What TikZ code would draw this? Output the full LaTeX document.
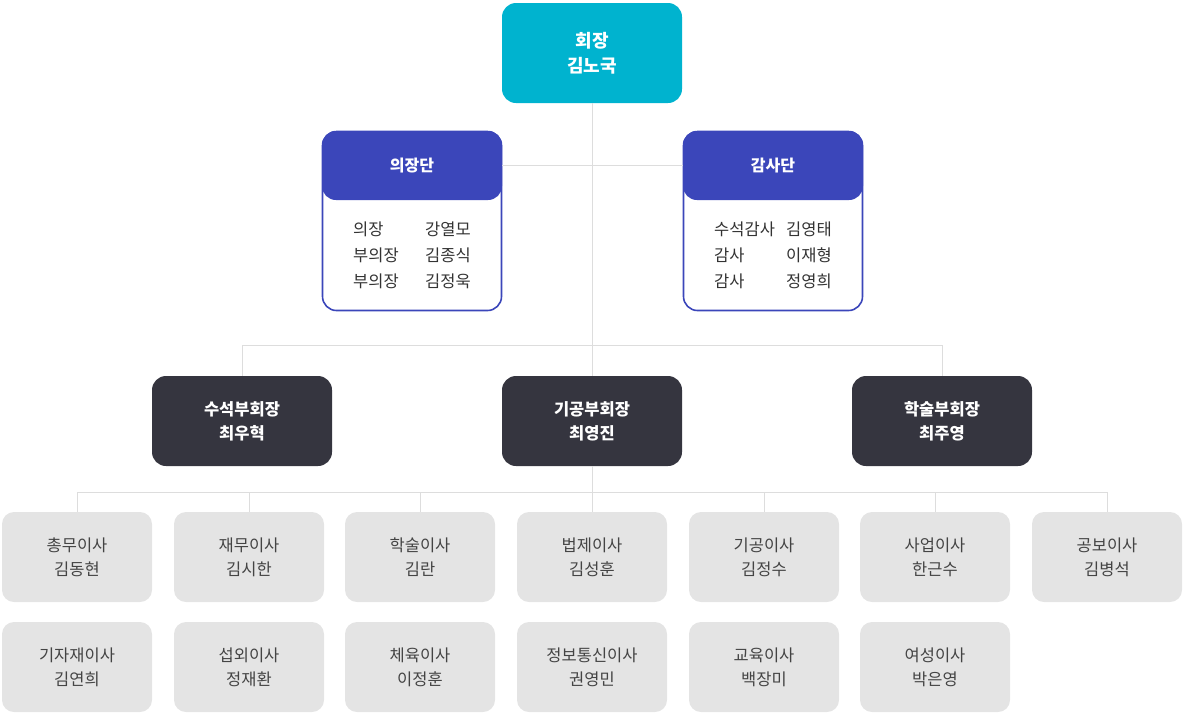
\documentclass[tikz,border=0pt]{standalone}
\usepackage{fontspec}
\setmainfont{Noto Sans CJK KR}
\definecolor{pcyan}{HTML}{00B3CF}
\definecolor{pblue}{HTML}{3B46BA}
\definecolor{pdark}{HTML}{35353F}
\definecolor{pgray}{HTML}{E4E4E4}
\definecolor{pline}{HTML}{DDDDDD}
\definecolor{ptext}{HTML}{333333}
\definecolor{pgtext}{HTML}{444444}
\begin{document}
\begin{tikzpicture}[x=1pt,y=-1pt,
  base/.style={rounded corners=14pt,inner sep=0pt,align=center,font=\fontsize{16.5}{24}\selectfont},
  presbox/.style={base,fill=pcyan,text=white,minimum width=180pt,minimum height=100pt,font=\fontsize{18}{25}\selectfont\bfseries},
  combox/.style={base,fill=white,draw=pblue,line width=1.6pt,minimum width=179pt,minimum height=179pt},
  hdrbox/.style={base,fill=pblue,text=white,minimum width=180pt,minimum height=69pt,font=\fontsize{16}{24}\selectfont\bfseries},
  vpbox/.style={base,fill=pdark,text=white,minimum width=180pt,minimum height=90pt,font=\fontsize{16.5}{24}\selectfont\bfseries},
  dirbox/.style={base,rounded corners=12pt,fill=pgray,text=pgtext,minimum width=150pt,minimum height=90pt},
  rowtxt/.style={anchor=west,inner sep=0pt,text=ptext,font=\fontsize{16.5}{18}\selectfont},
  conn/.style={draw=pline,line width=1pt}]
\useasboundingbox (0,0) rectangle (1185,713);

% nodes
\node[presbox] (pres) at (592,53) {회장\\김노국};

\node[combox] (c1) at (412,221) {};
\node[hdrbox] (h1) at (412,165.5) {의장단};
\node[combox] (c2) at (773,221) {};
\node[hdrbox] (h2) at (773,165.5) {감사단};

\node[rowtxt] (a1) at (353,229) {의장};
\node[rowtxt] (a2) at (353,255) {부의장};
\node[rowtxt] (a3) at (353,281) {부의장};
\node[rowtxt] (b1) at (425,229) {강열모};
\node[rowtxt] (b2) at (425,255) {김종식};
\node[rowtxt] (b3) at (425,281) {김정욱};

\node[rowtxt] (d1) at (714,229) {수석감사};
\node[rowtxt] (d2) at (714,255) {감사};
\node[rowtxt] (d3) at (714,281) {감사};
\node[rowtxt] (e1) at (786,229) {김영태};
\node[rowtxt] (e2) at (786,255) {이재형};
\node[rowtxt] (e3) at (786,281) {정영희};

\node[vpbox] (v1) at (242,421) {수석부회장\\최우혁};
\node[vpbox] (v2) at (592,421) {기공부회장\\최영진};
\node[vpbox] (v3) at (942,421) {학술부회장\\최주영};

\node[dirbox] (g1) at (77,557) {총무이사\\김동현};
\node[dirbox] (g2) at (249,557) {재무이사\\김시한};
\node[dirbox] (g3) at (420,557) {학술이사\\김란};
\node[dirbox] (g4) at (592,557) {법제이사\\김성훈};
\node[dirbox] (g5) at (764,557) {기공이사\\김정수};
\node[dirbox] (g6) at (935,557) {사업이사\\한근수};
\node[dirbox] (g7) at (1107,557) {공보이사\\김병석};

\node[dirbox] (k1) at (77,667) {기자재이사\\김연희};
\node[dirbox] (k2) at (249,667) {섭외이사\\정재환};
\node[dirbox] (k3) at (420,667) {체육이사\\이정훈};
\node[dirbox] (k4) at (592,667) {정보통신이사\\권영민};
\node[dirbox] (k5) at (764,667) {교육이사\\백장미};
\node[dirbox] (k6) at (935,667) {여성이사\\박은영};

% connectors
\coordinate (j1) at (592,345.5);
\coordinate (j2) at (592,492.5);
\draw[conn] (pres.south) -- (v2.north);
\draw[conn] (h1.east) -- (h2.west);
\draw[conn] (v1.north) |- (j1) -| (v3.north);
\draw[conn] (v2.south) -- (g4.north);
\draw[conn] (g1.north) |- (j2) -| (g7.north);
\draw[conn] (g2.north) -- (g2.north |- j2);
\draw[conn] (g3.north) -- (g3.north |- j2);
\draw[conn] (g5.north) -- (g5.north |- j2);
\draw[conn] (g6.north) -- (g6.north |- j2);
\end{tikzpicture}
\end{document}
